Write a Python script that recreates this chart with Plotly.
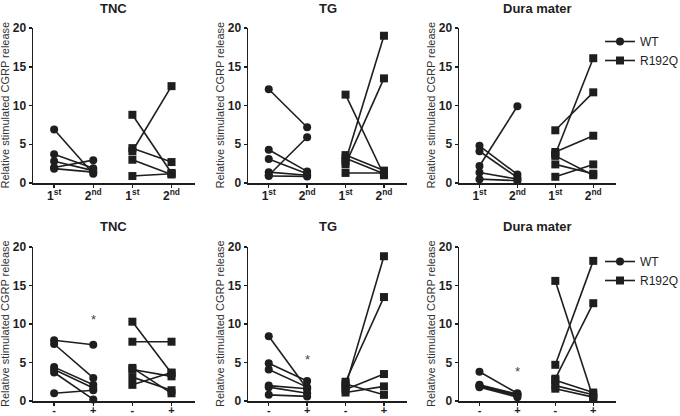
import plotly.graph_objects as go

# ---------------- data ----------------
top_labels = ["1<sup>st</sup>", "2<sup>nd</sup>", "1<sup>st</sup>", "2<sup>nd</sup>"]
bot_labels = ["-", "+", "-", "+"]
y_ticks = [0, 5, 10, 15, 20]
panel_titles = ["TNC", "TG", "Dura mater"]
series_names = ["WT", "R192Q"]
y_title = "Relative stimulated CGRP release"

# top row: 1st vs 2nd stimulation
tnc_top_wt_1 = [6.9, 3.7, 2.8, 2.0, 1.85]
tnc_top_wt_2 = [1.2, 1.9, 1.6, 2.95, 1.4]
tnc_top_mut_1 = [8.8, 4.5, 4.1, 3.0, 0.9]
tnc_top_mut_2 = [1.3, 2.7, 12.5, 1.1, 1.2]

tg_top_wt_1 = [12.1, 4.3, 3.1, 1.4, 1.0, 0.9]
tg_top_wt_2 = [7.2, 1.5, 1.2, 1.0, 5.9, 0.85]
tg_top_mut_1 = [11.4, 3.6, 3.2, 2.8, 2.4, 1.3]
tg_top_mut_2 = [1.0, 1.6, 1.2, 19.0, 13.5, 1.3]

dura_top_wt_1 = [4.8, 4.1, 2.2, 1.35, 0.5]
dura_top_wt_2 = [1.1, 0.7, 9.9, 0.5, 0.3]
dura_top_mut_1 = [6.8, 4.0, 3.7, 3.5, 2.4, 0.8]
dura_top_mut_2 = [11.7, 6.1, 16.1, 1.0, 1.2, 2.4]

# bottom row: - vs +
tnc_bot_wt_1 = [7.9, 7.4, 4.4, 4.1, 3.7, 1.0]
tnc_bot_wt_2 = [7.3, 3.0, 2.1, 1.7, 0.2, 1.4]
tnc_bot_mut_1 = [10.3, 7.7, 4.3, 4.1, 3.1, 2.1]
tnc_bot_mut_2 = [3.6, 7.7, 1.0, 3.2, 1.4, 3.7]

tg_bot_wt_1 = [8.4, 4.9, 4.1, 2.0, 1.8, 0.8]
tg_bot_wt_2 = [1.6, 2.6, 1.8, 1.6, 1.0, 0.6]
tg_bot_mut_1 = [2.5, 2.2, 1.9, 1.5, 1.1]
tg_bot_mut_2 = [13.5, 0.8, 18.8, 3.5, 1.9]

dura_bot_wt_1 = [3.8, 2.1, 2.0, 1.9, 1.8]
dura_bot_wt_2 = [1.0, 0.9, 0.8, 0.7, 0.5]
dura_bot_mut_1 = [15.6, 4.7, 2.9, 2.7, 2.0, 1.6]
dura_bot_mut_2 = [0.4, 18.2, 12.7, 1.1, 0.8, 0.5]

# significance marks over the WT "+" column (bottom row)
sig_marks_y = [10.6, 5.4, 3.8]

panels = [
    (tnc_top_wt_1, tnc_top_wt_2, tnc_top_mut_1, tnc_top_mut_2),
    (tg_top_wt_1, tg_top_wt_2, tg_top_mut_1, tg_top_mut_2),
    (dura_top_wt_1, dura_top_wt_2, dura_top_mut_1, dura_top_mut_2),
    (tnc_bot_wt_1, tnc_bot_wt_2, tnc_bot_mut_1, tnc_bot_mut_2),
    (tg_bot_wt_1, tg_bot_wt_2, tg_bot_mut_1, tg_bot_mut_2),
    (dura_bot_wt_1, dura_bot_wt_2, dura_bot_mut_1, dura_bot_mut_2),
]

# ---------------- layout geometry ----------------
W, H = 680, 416
col_px = [(33, 195), (248, 407), (459, 616)]
row_px = [(28, 183), (247, 401)]
xr = [-0.54, 3.6]
FONT = "Liberation Sans, Arial, sans-serif"
INK = "#1e1e1e"

fig = go.Figure()
layout = dict(
    width=W, height=H, margin=dict(l=0, r=0, t=0, b=0, autoexpand=False),
    paper_bgcolor="white", plot_bgcolor="white",
    font=dict(family=FONT, color=INK),
    showlegend=True,
)


def pairs(a, b, x0):
    xs, ys = [], []
    for va, vb in zip(a, b):
        xs += [x0, x0 + 1, None]
        ys += [va, vb, None]
    return xs, ys


annotations = []
for i, (w1, w2, m1, m2) in enumerate(panels):
    r, c = divmod(i, 3)
    n = i + 1
    xa = "x" if n == 1 else f"x{n}"
    ya = "y" if n == 1 else f"y{n}"
    leg = "legend" if r == 0 else "legend2"
    show = (c == 2)
    for name, (a, b), x0, sym in [(series_names[0], (w1, w2), 0, "circle"),
                                  (series_names[1], (m1, m2), 2, "square")]:
        xs, ys = pairs(a, b, x0)
        fig.add_trace(go.Scatter(
            x=xs, y=ys, mode="lines+markers", name=name,
            xaxis=xa, yaxis=ya, legend=leg, showlegend=show,
            line=dict(color=INK, width=1.6),
            marker=dict(symbol=sym, size=8, color=INK),
            cliponaxis=False, hoverinfo="skip",
        ))
    x0p, x1p = col_px[c]
    y0p, y1p = row_px[r]
    axis_common = dict(showgrid=False, zeroline=False, showline=True,
                       linecolor=INK, linewidth=1.5, ticks="outside",
                       ticklen=3, tickwidth=1.5, tickcolor=INK, automargin=False)
    labels = top_labels if r == 0 else bot_labels
    layout["xaxis" if n == 1 else f"xaxis{n}"] = dict(
        domain=[x0p / W, x1p / W], range=xr, anchor=ya,
        tickmode="array", tickvals=[0, 1, 2, 3],
        ticktext=[f"<b>{t}</b>" for t in labels],
        ticklabelstandoff=-2 if r == 0 else -5,
        tickfont=dict(size=12 if r == 0 else 11, family=FONT, color=INK),
        **axis_common)
    layout["yaxis" if n == 1 else f"yaxis{n}"] = dict(
        domain=[1 - y1p / H, 1 - y0p / H], range=[0, 20], anchor=xa,
        tickmode="array", tickvals=y_ticks,
        ticktext=[f"<b>{t}</b>" for t in y_ticks],
        tickfont=dict(size=12, family=FONT, color=INK),
        **axis_common)
    # panel title
    annotations.append(dict(
        text=f"<b>{panel_titles[c]}</b>", xref="paper", yref="paper",
        x=(x0p + x1p) / 2 / W, y=1 - (y0p - 20) / H, showarrow=False,
        font=dict(size=13, family=FONT, color=INK), xanchor="center", yanchor="middle"))
    # y-axis title
    annotations.append(dict(
        text=y_title, xref="paper", yref="paper",
        x=(x0p - 28) / W, y=1 - ((y0p + y1p) / 2) / H, showarrow=False,
        textangle=-90, font=dict(size=11, family=FONT, color="#333333"),
        xanchor="center", yanchor="middle"))
    if r == 1:
        annotations.append(dict(
            text="*", x=1, y=sig_marks_y[c], xref=xa, yref=ya, showarrow=False,
            font=dict(size=13, family=FONT, color="#444444"),
            xanchor="center", yanchor="middle"))

layout["annotations"] = annotations
layout["legend"] = dict(x=600 / W, y=1 - 27 / H, xanchor="left", yanchor="top",
                        font=dict(size=12, family=FONT, color=INK),
                        bgcolor="rgba(0,0,0,0)", tracegroupgap=0)
layout["legend2"] = dict(x=600 / W, y=1 - 247 / H, xanchor="left", yanchor="top",
                         font=dict(size=12, family=FONT, color=INK),
                         bgcolor="rgba(0,0,0,0)", tracegroupgap=0)
fig.update_layout(**layout)
fig.write_html(
    "out.html",
    config={"displayModeBar": False, "staticPlot": True},
    post_script="document.body.style.margin='0';document.body.style.padding='0';",
)
